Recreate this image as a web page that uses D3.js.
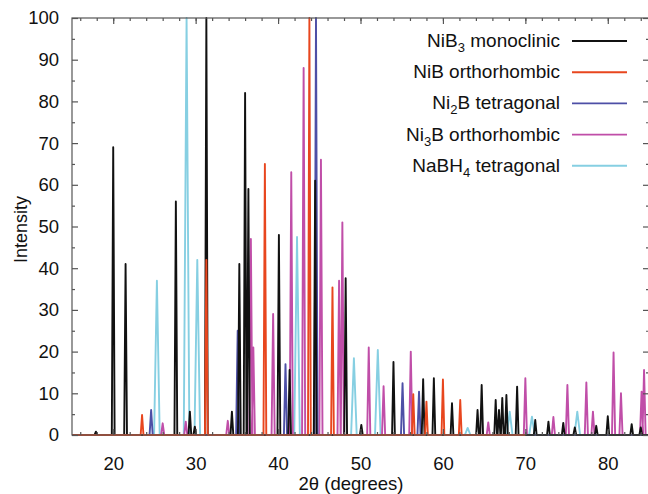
<!DOCTYPE html>
<html>
<head>
<meta charset="utf-8">
<script src="https://cdn.jsdelivr.net/npm/d3@7"></script>
<style>
  body { margin: 0; background: #fff; }
  svg { font-family: "Liberation Sans", Arial, Helvetica, sans-serif; }
</style>
</head>
<body>
<svg id="chart" width="648" height="494"></svg>
<script>
// peaks as [2theta, intensity]
const nib3Peaks = [
  [17.9, 0.8], [20.0, 69], [21.5, 41], [27.6, 56], [29.3, 5.6], [29.9, 2], [31.3, 100],
  [34.4, 5.6], [35.3, 41], [36.0, 82], [36.4, 59], [40.1, 48], [41.4, 15.6], [44.5, 61],
  [48.2, 37.6], [50.1, 2.4], [54.0, 17.5], [57.6, 13.4], [58.9, 13.6], [61.1, 7.6],
  [64.2, 6], [64.7, 12], [66.4, 8.4], [66.8, 6], [67.2, 8.9], [67.7, 9.6], [69.0, 11.6],
  [71.2, 3.6], [72.8, 3.2], [74.6, 2.9], [76.0, 1.8], [78.6, 2.2], [80.0, 4.5],
  [82.9, 2.6], [84.0, 1.8]
];
const nibPeaks = [
  [23.5, 4.8], [31.3, 42], [38.4, 65], [43.8, 100], [46.6, 35.4], [56.4, 9.8],
  [58.0, 8], [60.0, 13.3], [62.1, 8.4]
];
const ni2bPeaks = [
  [24.6, 6], [35.1, 25], [40.9, 17], [44.6, 100], [55.1, 12.4], [57.1, 10.4]
];
const ni3bPeaks = [
  [26.0, 2.8], [28.8, 3.2], [33.9, 3.4], [36.7, 47], [37.0, 21], [39.4, 29], [41.6, 63],
  [43.1, 88], [45.2, 66], [47.4, 37], [47.8, 51], [51.0, 21], [52.8, 11.7], [56.1, 20],
  [65.5, 3], [70.0, 13.6], [73.4, 4.3], [75.1, 12], [77.4, 12.6], [78.2, 5.6],
  [80.7, 19.8], [81.6, 10], [84.1, 10.4], [84.4, 15.6]
];
const nabh4Peaks = [
  [25.3, 37], [28.9, 100], [30.2, 42], [42.3, 47.5], [49.2, 18.4], [52.1, 20.4],
  [63.0, 1.7], [68.1, 5.6], [70.8, 4.4], [76.3, 5.6]
];

const seriesNames = ["NaBH4 tetragonal", "Ni3B orthorhombic", "Ni2B tetragonal", "NiB3 monoclinic", "NiB orthorhombic"];
const seriesRanges = [[15, 85], [15, 85], [15, 85], [15, 85], [15, 70]];
const xTicks = [20, 30, 40, 50, 60, 70, 80];
const yTicks = [0, 10, 20, 30, 40, 50, 60, 70, 80, 90, 100];

const series = [
  { name: seriesNames[0], peaks: nabh4Peaks, range: seriesRanges[0], color: "#86cfe2", hw: 0.34 },
  { name: seriesNames[1], peaks: ni3bPeaks, range: seriesRanges[1], color: "#c04ea8", hw: 0.19 },
  { name: seriesNames[2], peaks: ni2bPeaks, range: seriesRanges[2], color: "#4d4fa6", hw: 0.19 },
  { name: seriesNames[3], peaks: nib3Peaks, range: seriesRanges[3], color: "#111111", hw: 0.17 },
  { name: seriesNames[4], peaks: nibPeaks, range: seriesRanges[4], color: "#e8461e", hw: 0.17 }
];

const svg = d3.select("#chart");
const m = { left: 72, top: 18, right: 649, bottom: 435 };

const x = d3.scaleLinear().domain([15, 85]).range([m.left, m.right]);
const y = d3.scaleLinear().domain([0, 100]).range([m.bottom, m.top]);

svg.append("defs").append("clipPath").attr("id", "clip")
  .append("rect")
  .attr("x", m.left).attr("y", m.top - 1)
  .attr("width", m.right - m.left).attr("height", m.bottom - m.top + 2);

// profile of each pattern: baseline with a narrow triangle per peak
function profile(s) {
  const pts = [[s.range[0], 0]];
  s.peaks.slice().sort((a, b) => a[0] - b[0]).forEach(p => {
    pts.push([p[0] - s.hw, 0], [p[0], p[1]], [p[0] + s.hw, 0]);
  });
  pts.push([s.range[1], 0]);
  return pts;
}

const line = d3.line().x(d => x(d[0])).y(d => y(d[1]));

svg.append("g").attr("clip-path", "url(#clip)")
  .selectAll("path")
  .data(series)
  .enter().append("path")
  .attr("d", d => line(profile(d)))
  .attr("fill", "none")
  .attr("stroke", d => d.color)
  .attr("stroke-width", 1.9)
  .attr("stroke-linejoin", "round");

// frame
const axisColor = "#555";
svg.append("rect")
  .attr("x", m.left).attr("y", m.top)
  .attr("width", m.right - m.left).attr("height", m.bottom - m.top)
  .attr("fill", "none").attr("stroke", axisColor).attr("stroke-width", 1.2);

function styleAxis(g) {
  g.select(".domain").remove();
  g.selectAll("line").attr("stroke", axisColor).attr("stroke-width", 1.2);
  g.selectAll("text").attr("fill", "#111").style("font-size", "18.5px");
}

const xMinor = d3.range(16, 85, 2);
const yMinor = d3.range(5, 100, 10);

svg.append("g").attr("transform", `translate(0,${m.bottom})`)
  .call(d3.axisBottom(x).tickValues(xTicks).tickSize(-6).tickPadding(22).tickFormat(d3.format("d")))
  .call(styleAxis);
svg.append("g").attr("transform", `translate(0,${m.bottom})`)
  .call(d3.axisBottom(x).tickValues(xMinor).tickSize(-3).tickFormat(""))
  .call(styleAxis);
svg.append("g").attr("transform", `translate(0,${m.top})`)
  .call(d3.axisTop(x).tickValues(xTicks).tickSize(-6).tickFormat(""))
  .call(styleAxis);
svg.append("g").attr("transform", `translate(0,${m.top})`)
  .call(d3.axisTop(x).tickValues(xMinor).tickSize(-3).tickFormat(""))
  .call(styleAxis);

svg.append("g").attr("transform", `translate(${m.left},0)`)
  .call(d3.axisLeft(y).tickValues(yTicks).tickSize(-6).tickPadding(13).tickFormat(d3.format("d")))
  .call(styleAxis);
svg.append("g").attr("transform", `translate(${m.left},0)`)
  .call(d3.axisLeft(y).tickValues(yMinor).tickSize(-3).tickFormat(""))
  .call(styleAxis);
svg.append("g").attr("transform", `translate(${m.right},0)`)
  .call(d3.axisRight(y).tickValues(yTicks).tickSize(-6).tickFormat(""))
  .call(styleAxis);
svg.append("g").attr("transform", `translate(${m.right},0)`)
  .call(d3.axisRight(y).tickValues(yMinor).tickSize(-3).tickFormat(""))
  .call(styleAxis);

// axis titles
svg.append("text")
  .attr("x", 351).attr("y", 490)
  .attr("text-anchor", "middle")
  .style("font-size", "18.5px").attr("fill", "#111")
  .text("2θ (degrees)");
svg.append("text")
  .attr("transform", `translate(27,${(m.top + m.bottom) / 2 + 3}) rotate(-90)`)
  .attr("text-anchor", "middle")
  .style("font-size", "18px").attr("fill", "#111")
  .text("Intensity");

// legend, top to bottom
const legendOrder = [3, 4, 2, 1, 0];
const legend = svg.append("g");
legendOrder.forEach((si, i) => {
  const s = series[si];
  const ly = 41 + i * 31.2;
  legend.append("rect")
    .attr("x", 410).attr("y", ly - 12).attr("width", 226).attr("height", 24)
    .attr("fill", "#fff");
  legend.append("line")
    .attr("x1", 572).attr("x2", 627).attr("y1", ly).attr("y2", ly)
    .attr("stroke", s.color).attr("stroke-width", 1.9);
  const t = legend.append("text")
    .attr("x", 560).attr("y", ly + 6)
    .attr("text-anchor", "end")
    .style("font-size", "19px").attr("fill", "#111");
  const parts = s.name.match(/^([A-Za-z]+?)(\d)?([A-Za-z]*)( .*)$/);
  t.append("tspan").text(parts[1]);
  if (parts[2]) {
    t.append("tspan").attr("dy", 5).style("font-size", "13px").text(parts[2]);
    t.append("tspan").attr("dy", -5).text(parts[3] + parts[4]);
  } else {
    t.append("tspan").text(parts[3] + parts[4]);
  }
});
</script>
</body>
</html>
